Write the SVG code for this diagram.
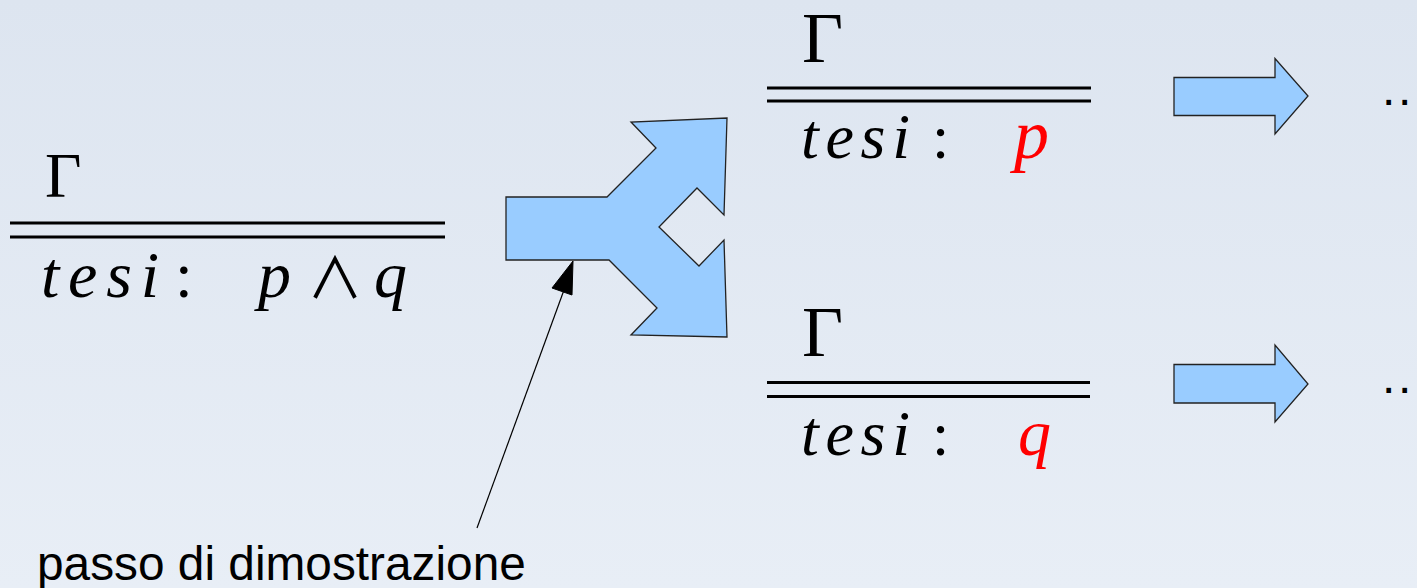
<svg xmlns="http://www.w3.org/2000/svg" width="1417" height="588" viewBox="0 0 1417 588">
<defs>
<linearGradient id="bg" x1="0" y1="0" x2="0" y2="1">
<stop offset="0" stop-color="#dde5f0"/>
<stop offset="1" stop-color="#e8eef6"/>
</linearGradient>
</defs>
<style>
.arrow{fill:#99ccff;stroke:#222;stroke-width:1.3;stroke-linejoin:miter}
.rule{stroke:#000;stroke-width:3.2}
.m{font-family:"Liberation Serif","DejaVu Serif",serif;fill:#000}
.it{font-style:italic}
.red{fill:#ff0000}
.sans{font-family:"Liberation Sans",Arial,sans-serif;fill:#000}
.and{font-family:"Noto Sans CJK JP","DejaVu Sans",sans-serif;font-weight:400;fill:#000}
</style>
<rect x="0" y="0" width="1417" height="588" fill="url(#bg)"/>

<g id="left-judgement">
<text class="m" x="45" y="197" font-size="63">Γ</text>
<line class="rule" x1="10" y1="223" x2="445" y2="223"/>
<line class="rule" x1="10" y1="237" x2="445" y2="237"/>
<text class="m it" x="41" y="297" font-size="66" textLength="118" lengthAdjust="spacing">tesi</text>
<text class="m" x="175" y="297" font-size="64">:</text>
<text class="m it" x="258" y="297" font-size="66">p</text>
<text class="and" x="335" y="298" font-size="56" text-anchor="middle">∧</text>
<text class="m it" x="374" y="297" font-size="66">q</text>
</g>

<g id="split-arrow">
<polygon class="arrow" points="506,197 607,197 656,148 631,122 727,118 724,215 697,188 659,227 699,266 724,240 727,337 631,335 657,308 609,260 506,260"/>
</g>

<g id="top-judgement">
<text class="m" x="802" y="61.5" font-size="71">Γ</text>
<line class="rule" x1="767" y1="88" x2="1091" y2="88"/>
<line class="rule" x1="767" y1="101" x2="1091" y2="101"/>
<text class="m it" x="801" y="158" font-size="64" textLength="109" lengthAdjust="spacing">tesi</text>
<text class="m" x="932" y="158" font-size="62">:</text>
<text class="m it red" x="1014" y="158" font-size="70">p</text>
</g>

<g id="bottom-judgement">
<text class="m" x="802" y="356" font-size="71">Γ</text>
<line class="rule" x1="767" y1="382.5" x2="1090" y2="382.5"/>
<line class="rule" x1="767" y1="396.5" x2="1090" y2="396.5"/>
<text class="m it" x="801" y="455" font-size="64" textLength="109" lengthAdjust="spacing">tesi</text>
<text class="m" x="932" y="455" font-size="62">:</text>
<text class="m it red" x="1018" y="455" font-size="66">q</text>
</g>

<g id="top-continue">
<polygon class="arrow" points="1174,77.5 1275,77.5 1275,58.5 1308,96 1275,134 1275,115.5 1174,115.5"/>
<text class="sans" x="1382" y="105" font-size="48" letter-spacing="2.7">..</text>
</g>

<g id="bottom-continue">
<polygon class="arrow" points="1174,364.5 1275,364.5 1275,345 1308,384 1275,422 1275,403 1174,403"/>
<text class="sans" x="1382" y="392.5" font-size="48" letter-spacing="2.7">..</text>
</g>

<g id="label">
<text class="sans" x="37" y="580" font-size="47.8">passo di dimostrazione</text>
</g>

<g id="connectors">
<line x1="564" y1="290" x2="477" y2="528" stroke="#000" stroke-width="1.2"/>
<polygon points="573,261 552,288 572,295" fill="#000" stroke="#000" stroke-width="1"/>
</g>
</svg>
